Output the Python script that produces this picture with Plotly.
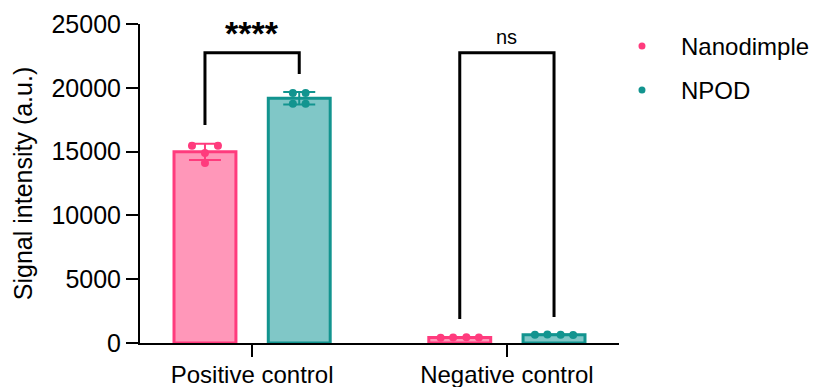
import numpy as np
import plotly.graph_objects as go

categories = ["Positive control", "Negative control"]
series_names = ["Nanodimple", "NPOD"]
nanodimple_points = [[15460, 15460, 14900, 14100], [420, 440, 450, 430]]
npod_points = [[19600, 19600, 18750, 18750], [640, 660, 650, 630]]
significance = ["<b>****</b>", "ns"]
y_ticks = [0, 5000, 10000, 15000, 20000, 25000]

FONT = "Liberation Sans, Arial, sans-serif"
fills = ["#FF97B9", "#80C7C7"]
lines = ["#FF3B7D", "#12948F"]
bar_offsets = [-0.185, 0.185]
bar_width = 0.243
# per-category point jitter (in category units)
jitters = [
    [[-0.051, 0.051, 0.0, 0.0], [-0.075, -0.026, 0.026, 0.075]],
    [[-0.025, 0.025, -0.025, 0.025], [-0.075, -0.026, 0.026, 0.075]],
]

fig = go.Figure()
all_series = [nanodimple_points, npod_points]
for s, pts in enumerate(all_series):
    means = [float(np.mean(p)) for p in pts]
    sds = [float(np.std(p, ddof=1)) for p in pts]
    xs = [i + bar_offsets[s] for i in range(len(categories))]
    fig.add_trace(go.Bar(
        x=xs, y=means, width=bar_width, name=series_names[s],
        marker=dict(color=fills[s], line=dict(color=lines[s], width=3)),
        error_y=dict(type="data", array=sds, visible=True, color=lines[s],
                     thickness=2, width=16),
        showlegend=False,
    ))
for s, pts in enumerate(all_series):
    px, py = [], []
    for i, p in enumerate(pts):
        for j, v in enumerate(p):
            px.append(i + bar_offsets[s] + jitters[s][i][j])
            py.append(v)
    fig.add_trace(go.Scatter(
        x=px, y=py, mode="markers", name=series_names[s],
        marker=dict(color=lines[s], size=8), showlegend=False, cliponaxis=False,
    ))

# significance brackets
bracket_top = 22750
bracket_bottoms = [[17080, 21080], [1880, 2040]]
label_y = [24290, 23980]
label_sizes = [34, 20]
for i in range(len(categories)):
    xl, xr = i + bar_offsets[0], i + bar_offsets[1]
    fig.add_trace(go.Scatter(
        x=[xl, xl, xr, xr],
        y=[bracket_bottoms[i][0], bracket_top, bracket_top, bracket_bottoms[i][1]],
        mode="lines", line=dict(color="black", width=3), showlegend=False,
        hoverinfo="skip", cliponaxis=False,
    ))
    fig.add_annotation(x=i, y=label_y[i], text=significance[i], showarrow=False,
                       font=dict(family=FONT, size=label_sizes[i], color="black"),
                       xanchor="center", yanchor="middle")

# legend (manual)
legend_y = [0.931, 0.793]
for s in range(2):
    fig.add_shape(type="circle", xref="paper", yref="paper",
                  xsizemode="pixel", ysizemode="pixel",
                  xanchor=1.048, yanchor=legend_y[s],
                  x0=-3.5, x1=3.5, y0=-3.5, y1=3.5,
                  fillcolor=lines[s], line=dict(width=0))
    fig.add_annotation(xref="paper", yref="paper", x=1.125, y=legend_y[s],
                       text=series_names[s], showarrow=False,
                       xanchor="left", yanchor="middle",
                       font=dict(family=FONT, size=24, color="black"))

# page body adds an 8px offset; size the figure to compensate
fig.update_layout(
    width=810, height=379,
    margin=dict(l=132, r=199, t=16, b=44, autoexpand=False),
    plot_bgcolor="white", paper_bgcolor="white",
    barmode="overlay",
    font=dict(family=FONT, size=24, color="black"),
    xaxis=dict(range=[-0.44, 1.44], tickvals=[0, 1], ticktext=categories,
               showline=True, linecolor="black", linewidth=2, ticks="outside",
               ticklen=12, tickwidth=2, tickcolor="black", showgrid=False,
               zeroline=False, tickfont=dict(size=24), automargin=False,
               ticklabelstandoff=-3),
    yaxis=dict(range=[0, 25000], tickvals=y_ticks, tickformat="d",
               showline=True, linecolor="black", linewidth=2, ticks="outside",
               ticklen=12, tickwidth=2, tickcolor="black", showgrid=False,
               zeroline=False, tickfont=dict(size=25), automargin=False,
               title=dict(text="Signal intensity (a.u.)", font=dict(size=25), standoff=12)),
)

fig.write_html("out.html")
